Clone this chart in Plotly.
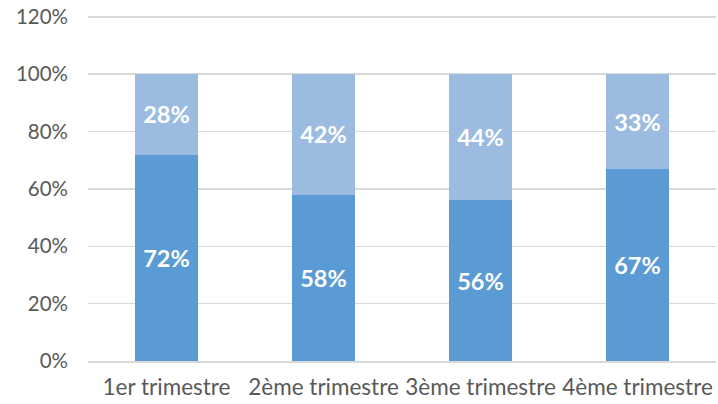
import plotly.graph_objects as go

categories = ["1er trimestre", "2ème trimestre", "3ème trimestre", "4ème trimestre"]
series_a = [72, 58, 56, 67]
series_b = [28, 42, 44, 33]
y_ticks = [0, 20, 40, 60, 80, 100, 120]
y_tick_labels = ["0%", "20%", "40%", "60%", "80%", "100%", "120%"]

label_font = dict(family="Lato, Calibri, sans-serif", size=23.5, color="white")

fig = go.Figure()
fig.add_trace(go.Bar(
    x=categories, y=series_a, marker_color="#5B9BD5",
    text=[f"{v}%" for v in series_a], textposition="inside",
    insidetextanchor="middle", textfont=label_font, width=0.395,
    hoverinfo="skip",
))
fig.add_trace(go.Bar(
    x=categories, y=series_b, marker_color="#9BBBE1",
    text=[f"{v}%" for v in series_b], textposition="inside",
    insidetextanchor="middle", textfont=label_font, width=0.395,
    hoverinfo="skip",
))
fig.update_traces(texttemplate="<b>%{text}</b>", marker_line_width=0)
fig.update_layout(
    barmode="stack",
    width=718, height=404,
    margin=dict(l=88, r=2, t=14, b=43, autoexpand=False),
    paper_bgcolor="white", plot_bgcolor="white",
    showlegend=False,
    uniformtext=dict(mode=False),
    font=dict(family="Lato, Calibri, sans-serif", size=16, color="#595959"),
)
fig.update_yaxes(
    range=[0, 121], tickvals=y_ticks, ticktext=y_tick_labels,
    showgrid=True, gridcolor="#D9D9D9", gridwidth=1.5,
    zeroline=False, showline=False, ticks="", ticklen=0,
    tickfont=dict(size=20.5, color="#595959"), automargin=False,
    ticklabelstandoff=19,
)
fig.update_xaxes(
    showgrid=False, showline=True, linecolor="#D9D9D9", linewidth=1.5,
    ticks="", tickfont=dict(size=22.5, color="#595959"), automargin=False,
    ticklabelstandoff=5,
)
fig.write_html(
    "out.html",
    config={"displayModeBar": False, "staticPlot": True},
    post_script="document.body.style.margin='0px';",
)
